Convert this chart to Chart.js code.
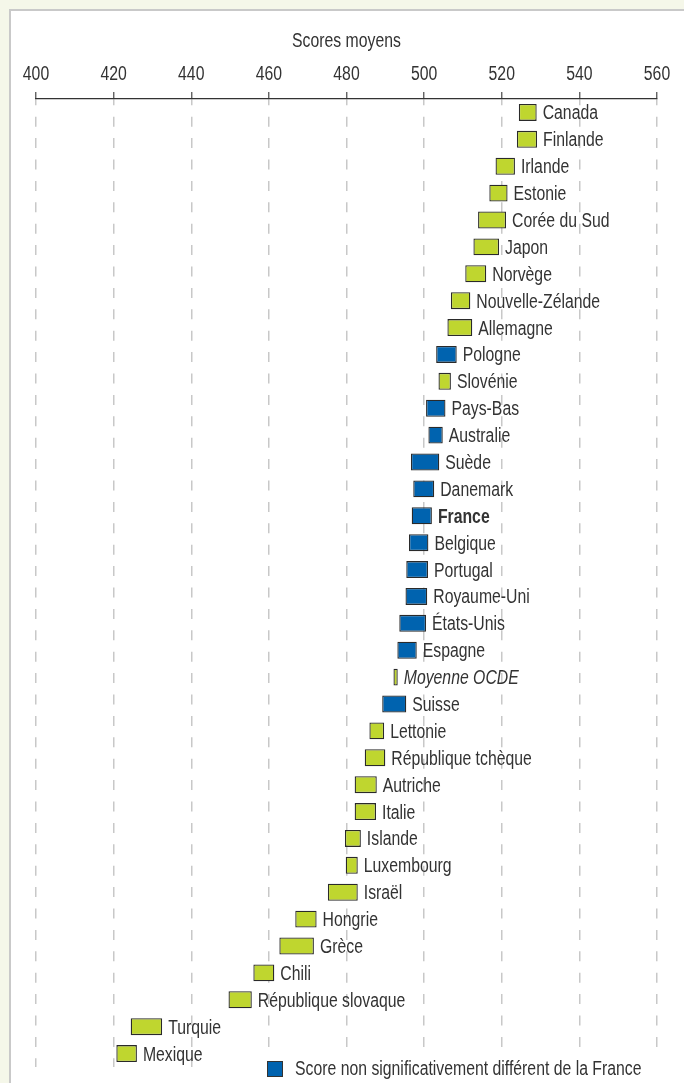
<!DOCTYPE html>
<html lang="fr">
<head>
<meta charset="utf-8">
<title>Scores moyens</title>
<script src="https://cdn.jsdelivr.net/npm/chart.js@4"></script>
<style>
  html, body { margin: 0; padding: 0; }
  body { width: 684px; height: 1083px; background: #f5f7e9; position: relative; overflow: hidden; }
  .panel { position: absolute; left: 9px; top: 9px; right: -10px; bottom: -10px; background: #fff;
           border-left: 2px solid #c9c9c9; border-top: 2px solid #c9c9c9; }
  canvas { position: absolute; left: 0; top: 0; }
</style>
</head>
<body>
<div class="panel"></div>
<canvas id="chart" width="684" height="1083"></canvas>
<script>
// Données : intervalle de confiance du score moyen par pays
const pays = [
  "Canada", "Finlande", "Irlande", "Estonie", "Corée du Sud", "Japon", "Norvège",
  "Nouvelle-Zélande", "Allemagne", "Pologne", "Slovénie", "Pays-Bas", "Australie",
  "Suède", "Danemark", "France", "Belgique", "Portugal", "Royaume-Uni", "États-Unis",
  "Espagne", "Moyenne OCDE", "Suisse", "Lettonie", "République tchèque", "Autriche",
  "Italie", "Islande", "Luxembourg", "Israël", "Hongrie", "Grèce", "Chili",
  "République slovaque", "Turquie", "Mexique",
];
const bornesBasses = [
  524.4, 523.9, 518.4, 516.8, 513.9, 512.7, 510.6, 506.9, 506.0, 503.1, 503.7, 500.5,
  501.1, 496.6, 497.2, 496.8, 496.1, 495.4, 495.2, 493.6, 493.1, 492.1, 489.2, 485.9,
  484.7, 482.1, 482.1, 479.6, 479.8, 475.2, 466.8, 462.7, 456.0, 449.6, 424.4, 420.7,
];
const bornesHautes = [
  529.0, 529.1, 523.4, 521.5, 521.1, 519.3, 516.0, 511.9, 512.4, 508.4, 506.9, 505.5,
  504.8, 503.9, 502.6, 502.0, 501.1, 501.0, 500.8, 500.5, 498.1, 493.2, 495.4, 489.7,
  490.0, 487.8, 487.6, 483.7, 482.9, 482.9, 472.3, 471.6, 461.4, 455.6, 432.5, 426.0,
];
// pays dont le score n'est pas significativement différent de la France
const nonSignificatifs = [
  "Pologne", "Pays-Bas", "Australie", "Suède", "Danemark", "France", "Belgique",
  "Portugal", "Royaume-Uni", "États-Unis", "Espagne", "Suisse",
];
const ticksX = [400, 420, 440, 460, 480, 500, 520, 540, 560];
const titreAxe = "Scores moyens";
const texteLegende = "Score non significativement différent de la France";

const VERT = "#bfd62f";
const BLEU = "#0063af";
const TEXTE = "#333333";
const FAMILLE = "'Liberation Sans', Arial, sans-serif";
const TAILLE = 19.5;
const ETROIT = 0.81; // police condensée simulée

// Texte condensé horizontalement
function texteEtroit(ctx, texte, x, y, align, style) {
  ctx.save();
  ctx.font = (style || "") + TAILLE + "px " + FAMILLE;
  ctx.fillStyle = TEXTE;
  ctx.textAlign = align;
  ctx.textBaseline = "alphabetic";
  ctx.translate(x, y);
  ctx.scale(ETROIT, 1);
  ctx.fillText(texte, 0, 0);
  ctx.restore();
}

// Étiquettes à droite de chaque barre
const etiquettesPlugin = {
  id: "etiquettes",
  afterDatasetsDraw(chart) {
    const ctx = chart.ctx;
    const meta = chart.getDatasetMeta(0);
    meta.data.forEach((bar, i) => {
      const nom = pays[i];
      let style = "";
      if (nom === "France") style = "bold ";
      if (nom === "Moyenne OCDE") style = "italic ";
      const xFin = Math.max(bar.x, bar.base);
      texteEtroit(ctx, nom, xFin + 6, bar.y + 7, "left", style);
    });
  },
};

// Graduations, titre de l'axe et légende
const axeLegendePlugin = {
  id: "axeLegende",
  afterDraw(chart) {
    const ctx = chart.ctx;
    const x = chart.scales.x;
    ticksX.forEach((v) => {
      texteEtroit(ctx, String(v), x.getPixelForValue(v), 80, "center");
    });
    texteEtroit(ctx, titreAxe, (x.left + x.right) / 2, 47, "center");

    ctx.save();
    ctx.fillStyle = "#fff";
    ctx.fillRect(262, 1052, 400, 31);
    ctx.fillStyle = BLEU;
    ctx.fillRect(267.5, 1061.5, 15, 15);
    ctx.strokeStyle = "#333";
    ctx.lineWidth = 1;
    ctx.strokeRect(267.5, 1061.5, 15, 15);
    ctx.restore();
    texteEtroit(ctx, texteLegende, 295, 1074.5, "left");
  },
};

function initChart() {
  const ctx = document.getElementById("chart").getContext("2d");
  const couleurs = pays.map((p) => (nonSignificatifs.includes(p) ? BLEU : VERT));

  new Chart(ctx, {
    type: "bar",
    data: {
      labels: pays,
      datasets: [
        {
          data: pays.map((p, i) => [bornesBasses[i], bornesHautes[i]]),
          backgroundColor: couleurs,
          borderColor: "#2a2a2a",
          borderWidth: 1.3,
          borderSkipped: false,
          barPercentage: 0.63,
          categoryPercentage: 1,
        },
      ],
    },
    options: {
      indexAxis: "y",
      responsive: false,
      devicePixelRatio: 1,
      animation: false,
      layout: {
        padding: { left: 36, right: 27, top: 92, bottom: 16 },
      },
      plugins: {
        legend: { display: false },
        tooltip: { enabled: false },
      },
      scales: {
        x: {
          position: "top",
          min: 400,
          max: 560,
          afterBuildTicks: (scale) => {
            scale.ticks = ticksX.map((v) => ({ value: v }));
          },
          ticks: { display: false },
          grid: {
            color: "#c8c8c8",
            lineWidth: 1.5,
            tickColor: "#555",
            tickLength: 7,
            tickWidth: 1.3,
          },
          border: {
            color: "#333",
            width: 1.3,
            dash: [10, 11.4],
            dashOffset: 4,
          },
        },
        y: {
          display: false,
        },
      },
    },
    plugins: [etiquettesPlugin, axeLegendePlugin],
  });
}

initChart();
</script>
</body>
</html>
